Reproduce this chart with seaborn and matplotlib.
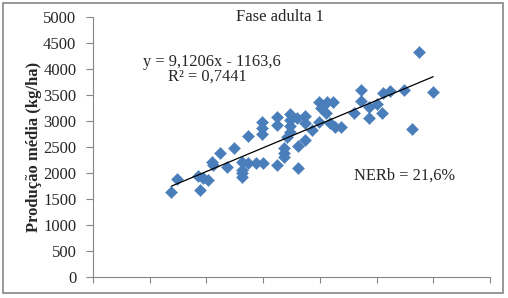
import numpy as np
import pandas as pd
import matplotlib
matplotlib.use("Agg")
import matplotlib.pyplot as plt
import seaborn as sns
from matplotlib.patches import Rectangle

# Data (x = unlabeled predictor, y = Produção média kg/ha)
x_vals = [319, 324, 344, 343, 347, 351, 355, 356, 362, 368, 374, 387, 381, 381, 381, 381,
          387, 394, 400, 399, 399, 399, 412, 412, 412, 418, 418, 418, 424, 424, 424, 424,
          421, 431, 431, 437, 437, 437, 443, 449, 456, 462, 451, 455, 449, 459, 463, 469,
          480, 486, 486, 493, 500, 493, 505, 506, 512, 524, 531, 537, 550, 430]
y_vals = [1635, 1885, 1673, 1942, 1904, 1865, 2211, 2154, 2385, 2115, 2481, 2712, 2211, 2058, 2000, 1923,
          2192, 2192, 2192, 2981, 2865, 2750, 3077, 2923, 2154, 2481, 2385, 2308, 3135, 3019, 2904, 2788,
          2692, 2519, 2096, 3096, 2961, 2635, 2827, 3365, 3365, 3365, 3250, 3154, 2981, 2961, 2885, 2885,
          3154, 3596, 3385, 3269, 3327, 3058, 3154, 3538, 3577, 3596, 2846, 4327, 3558, 3058]
slope = 9.1206
intercept = -1163.6
y_ticks = [0, 500, 1000, 1500, 2000, 2500, 3000, 3500, 4000, 4500, 5000]
x_ticks = [250, 300, 350, 400, 450, 500, 550, 600]
title = "Fase adulta 1"
y_label = "Produção média (kg/ha)"
eq_text = "y = 9,1206x - 1163,6"
r2_text = "R² = 0,7441"
ner_text = "NERb = 21,6%"

df = pd.DataFrame({"x": x_vals, "y": y_vals})
xs = np.array([min(x_vals), max(x_vals)])
trend = pd.DataFrame({"x": xs, "y": slope * xs + intercept})

sns.set_theme(style="white")
plt.rcParams["font.family"] = ["Liberation Serif", "DejaVu Serif"]

fig = plt.figure(figsize=(5.08, 2.98), dpi=100)
ax = fig.add_axes([93 / 508, 21 / 298, 397 / 508, 260 / 298])

sns.scatterplot(data=df, x="x", y="y", ax=ax, marker="D", s=38, color="#4a7ebb",
                edgecolor="#4a7ebb", linewidth=0.3, zorder=3)
sns.lineplot(data=trend, x="x", y="y", ax=ax, color="black", linewidth=0.9, zorder=4)

ax.set_xlim(250, 600)
ax.set_ylim(0, 5000)
ax.set_yticks(y_ticks)
ax.set_xticks(x_ticks)
ax.set_xticklabels([])
ax.set_xlabel("")
ax.set_ylabel(y_label, fontsize=12, fontweight="bold", labelpad=1)
ax.tick_params(axis="y", labelsize=12, length=5, width=0.8, color="#868686",
               direction="out", left=True, pad=7)
ax.tick_params(axis="x", length=4, width=0.8, color="#868686", direction="out", bottom=True)
for s in ["top", "right"]:
    ax.spines[s].set_visible(False)
for s in ["left", "bottom"]:
    ax.spines[s].set_color("#868686")
    ax.spines[s].set_linewidth(0.8)

fig.text(280 / 508, 1 - 17 / 298, title, ha="center", va="center", fontsize=12)
fig.text(212 / 508, 1 - 62 / 298, eq_text, ha="center", va="center", fontsize=11.8)
fig.text(207 / 508, 1 - 77 / 298, r2_text, ha="center", va="center", fontsize=11.8)
fig.text(405 / 508, 1 - 176 / 298, ner_text, ha="center", va="center", fontsize=11.8)

fig.patches.append(Rectangle((3 / 508, 5 / 298), 500 / 508, 290 / 298, transform=fig.transFigure,
                             fill=False, edgecolor="#868686", linewidth=1.2))

fig.savefig("out.png", dpi=100)
